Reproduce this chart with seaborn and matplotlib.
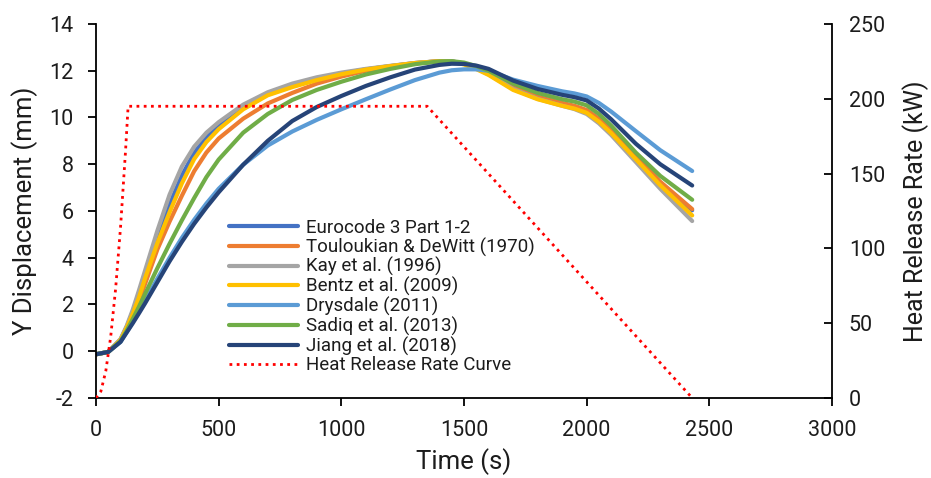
import numpy as np
import pandas as pd
import matplotlib
matplotlib.use("Agg")
import matplotlib.pyplot as plt
import seaborn as sns

# ---- data -------------------------------------------------------------
time_s = [0, 50, 100, 125, 150, 175, 200, 250, 300, 350, 400, 450, 500, 600,
          700, 800, 900, 1000, 1100, 1200, 1300, 1400, 1450, 1500, 1550, 1600,
          1700, 1800, 1900, 1950, 2000, 2050, 2100, 2200, 2300, 2430]

eurocode = [-0.13, -0.03, 0.50, 1.03, 1.68, 2.45, 3.28, 4.88, 6.28, 7.52, 8.48,
            9.15, 9.65, 10.45, 11.00, 11.38, 11.66, 11.88, 12.06, 12.20, 12.33,
            12.41, 12.40, 12.31, 12.12, 11.88, 11.28, 10.88, 10.60, 10.47, 10.28,
            9.90, 9.42, 8.30, 7.20, 6.03]
touloukian = [-0.13, -0.03, 0.45, 0.93, 1.50, 2.15, 2.88, 4.35, 5.55, 6.65, 7.70,
              8.50, 9.10, 9.95, 10.60, 11.05, 11.45, 11.75, 12.00, 12.18, 12.32,
              12.41, 12.40, 12.31, 12.12, 11.88, 11.27, 10.88, 10.62, 10.50, 10.32,
              9.95, 9.48, 8.36, 7.25, 6.08]
kay = [-0.13, -0.03, 0.52, 1.08, 1.78, 2.60, 3.45, 5.15, 6.70, 7.90, 8.75, 9.35,
       9.80, 10.55, 11.08, 11.45, 11.72, 11.92, 12.08, 12.21, 12.33, 12.41, 12.40,
       12.30, 12.10, 11.85, 11.22, 10.80, 10.50, 10.36, 10.15, 9.75, 9.25, 8.10,
       6.95, 5.57]
bentz = [-0.13, -0.03, 0.48, 1.00, 1.60, 2.30, 3.12, 4.62, 5.95, 7.18, 8.22, 8.95,
         9.50, 10.35, 10.95, 11.30, 11.60, 11.85, 12.05, 12.20, 12.33, 12.41,
         12.38, 12.27, 12.07, 11.82, 11.18, 10.78, 10.50, 10.38, 10.20, 9.82, 9.33,
         8.22, 7.10, 5.81]
drysdale = [-0.13, -0.03, 0.40, 0.82, 1.25, 1.70, 2.15, 3.10, 4.00, 4.85, 5.62,
            6.32, 6.95, 7.98, 8.80, 9.40, 9.90, 10.35, 10.78, 11.20, 11.60, 11.92,
            12.02, 12.06, 12.06, 12.00, 11.62, 11.35, 11.12, 11.03, 10.90, 10.62,
            10.25, 9.42, 8.60, 7.71]
sadiq = [-0.13, -0.03, 0.43, 0.88, 1.38, 1.90, 2.45, 3.55, 4.60, 5.60, 6.55, 7.45,
         8.20, 9.35, 10.15, 10.75, 11.18, 11.53, 11.84, 12.08, 12.28, 12.40, 12.41,
         12.35, 12.20, 12.00, 11.45, 11.05, 10.78, 10.68, 10.52, 10.15, 9.65, 8.50,
         7.50, 6.48]
jiang = [-0.13, -0.03, 0.40, 0.80, 1.20, 1.62, 2.05, 2.95, 3.85, 4.68, 5.45, 6.15,
         6.80, 7.98, 9.00, 9.85, 10.45, 10.92, 11.35, 11.72, 12.05, 12.25, 12.30,
         12.29, 12.22, 12.08, 11.58, 11.22, 10.97, 10.87, 10.73, 10.38, 9.92, 8.88,
         8.00, 7.09]

series_labels = ["Eurocode 3 Part 1-2", "Touloukian & DeWitt (1970)",
                 "Kay et al. (1996)", "Bentz et al. (2009)", "Drysdale (2011)",
                 "Sadiq et al. (2013)", "Jiang et al. (2018)"]
series_values = [eurocode, touloukian, kay, bentz, drysdale, sadiq, jiang]
series_colors = ["#4472C4", "#ED7D31", "#A5A5A5", "#FFC000", "#5B9BD5",
                 "#70AD47", "#264478"]

hrr_time = [0, 20, 40, 60, 80, 100, 120, 131, 1350, 2430]
hrr_kw = [0, 4.5, 18, 41, 73, 114, 164, 195, 195, 0]

# ---- style --------------------------------------------------------------
sns.set_theme(style="white")
plt.rcParams["font.family"] = ["Roboto", "DejaVu Sans"]
plt.rcParams["font.weight"] = "normal"
plt.rcParams["axes.labelweight"] = "normal"
plt.rcParams["axes.unicode_minus"] = False
plt.rcParams["text.color"] = "#1c1c1c"
plt.rcParams["axes.labelcolor"] = "#1c1c1c"

fig = plt.figure(figsize=(9.31, 4.78), dpi=100)
ax = fig.add_axes([0.1031, 0.1674, 0.7906, 0.7824])
ax2 = ax.twinx()

frames = []
for lab, vals in zip(series_labels, series_values):
    frames.append(pd.DataFrame({"Time": time_s, "Disp": vals, "Model": lab}))
df = pd.concat(frames, ignore_index=True)

for lab, col in zip(series_labels, series_colors):
    sub = df[df["Model"] == lab]
    sns.lineplot(data=sub, x="Time", y="Disp", ax=ax, color=col, lw=3,
                 label=lab, sort=False, legend=False)
for ln in ax.get_lines():
    ln.set_solid_joinstyle("round")
    ln.set_solid_capstyle("round")

hrr = pd.DataFrame({"Time": hrr_time, "HRR": hrr_kw})
sns.lineplot(data=hrr, x="Time", y="HRR", ax=ax2, color="#FF0000", lw=2,
             linestyle=(0, (1, 1.6)), label="Heat Release Rate Curve",
             sort=False, legend=False)

# ---- axes ---------------------------------------------------------------
ax.set_xlim(0, 3000)
ax.set_ylim(-2, 14)
ax.set_xticks(range(0, 3001, 500))
ax.set_yticks(range(-2, 15, 2))
ax2.set_ylim(0, 250)
ax2.set_yticks(range(0, 251, 50))

ax.set_xlabel("Time (s)", fontsize=18.5, labelpad=5)
ax.set_ylabel("Y Displacement (mm)", fontsize=18.5, labelpad=8)
ax2.set_ylabel("Heat Release Rate (kW)", fontsize=18, labelpad=12)

for a in (ax, ax2):
    for s in a.spines.values():
        s.set_color("black")
        s.set_linewidth(1.3)
    a.spines["top"].set_visible(False)
ax.spines["right"].set_visible(False)
ax2.spines["left"].set_visible(False)
ax2.spines["bottom"].set_visible(False)

ax.tick_params(axis="x", which="major", direction="out", length=6, width=1.3,
               color="black", labelsize=15.5, labelcolor="#1c1c1c", pad=10,
               bottom=True)
ax.tick_params(axis="y", which="major", direction="out", length=6, width=1.3,
               color="black", labelsize=15.5, labelcolor="#1c1c1c", pad=10,
               left=True)
ax2.tick_params(axis="y", direction="in", length=6, width=1.3, color="black",
                labelsize=15.5, labelcolor="#1c1c1c", pad=12, right=True)

h1, l1 = ax.get_legend_handles_labels()
h2, l2 = ax2.get_legend_handles_labels()
ax2.legend(h1 + h2, l1 + l2, loc="upper left",
           bbox_to_anchor=(229 / 931, 1 - 219 / 478),
           bbox_transform=fig.transFigure, frameon=False, fontsize=13.5,
           handlelength=3.7, handletextpad=0.4, labelspacing=0.03,
           borderpad=0, borderaxespad=0)

fig.savefig("out.png", dpi=100)
